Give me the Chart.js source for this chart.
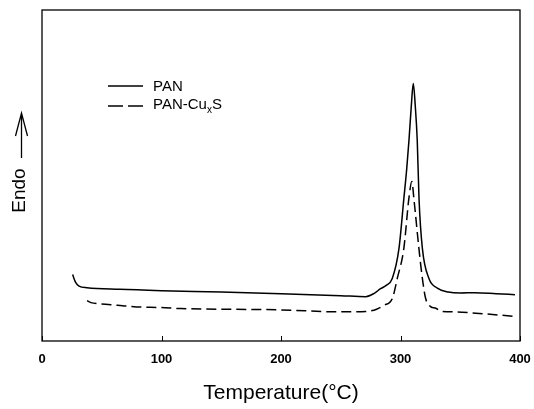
<!DOCTYPE html>
<html>
<head>
<meta charset="utf-8">
<script src="https://cdn.jsdelivr.net/npm/chart.js@4"></script>
<style>
  html, body { margin: 0; padding: 0; background: #fff; }
  #wrap { width: 534px; height: 409px; }
</style>
</head>
<body>
<div id="wrap"><canvas id="dsc" width="534" height="409"></canvas></div>
<script>
// DSC curves (arbitrary endo units, 0..100 = frame)
const panTemp = [25.6, 28, 31, 37.7, 65, 100, 150, 200, 250, 271, 278, 283.3, 288, 293.1, 298.7, 302.8, 305.2, 307.1, 309, 310.7, 312.4, 314, 315.5, 318.3, 323.8, 330.8, 340, 350, 362, 380, 395.8];
const panEndo = [20.1, 17.8, 16.6, 16.1, 15.6, 15.2, 14.8, 14.3, 13.7, 13.4, 14.4, 15.8, 16.8, 18.9, 27.9, 43, 52, 60.7, 70.8, 77.8, 70.8, 60.7, 43, 28, 18.9, 16, 14.8, 14.5, 14.6, 14.3, 14.0];

const cuTemp = [37.7, 41, 48.8, 63, 79, 100, 116, 200, 250, 271, 280, 286.1, 293.1, 297.3, 302.8, 307, 309.5, 311.2, 315.4, 318.3, 321, 325.2, 329.5, 335, 345, 360, 394];
const cuEndo = [12.2, 11.6, 11.2, 10.8, 10.3, 10.1, 9.8, 9.4, 8.8, 8.9, 9.6, 10.8, 12.8, 18.9, 28, 43, 48.2, 43, 28, 18.9, 12.9, 10.4, 9.9, 8.9, 8.8, 8.5, 7.5];

const xTicks = [0, 100, 200, 300, 400];
const xTitle = "Temperature(\u00B0C)";

const FONT = "'Liberation Sans', Arial, Helvetica, sans-serif";

function pts(xs, ys) {
  return xs.map((x, i) => ({ x: x, y: ys[i] }));
}

// frame, inward ticks, legend, axis titles
const decor = {
  id: "decor",
  afterDraw(chart) {
    const ctx = chart.ctx;
    const a = chart.chartArea;
    const xs = chart.scales.x;
    ctx.save();
    ctx.strokeStyle = "#000";
    ctx.lineWidth = 1.3;
    ctx.strokeRect(a.left, a.top, a.right - a.left, a.bottom - a.top);

    // ticks pointing into the plot
    ctx.lineWidth = 1;
    xTicks.forEach(t => {
      const px = Math.round(xs.getPixelForValue(t)) + 0.5;
      ctx.beginPath();
      ctx.moveTo(px, a.bottom);
      ctx.lineTo(px, a.bottom - 5);
      ctx.stroke();
    });

    // legend
    ctx.lineWidth = 1.5;
    ctx.beginPath();
    ctx.moveTo(108, 86);
    ctx.lineTo(143, 86);
    ctx.stroke();
    ctx.setLineDash([15, 5]);
    ctx.beginPath();
    ctx.moveTo(108, 106);
    ctx.lineTo(143, 106);
    ctx.stroke();
    ctx.setLineDash([]);

    ctx.fillStyle = "#000";
    ctx.textBaseline = "middle";
    ctx.textAlign = "left";
    ctx.font = "15px " + FONT;
    ctx.fillText("PAN", 153, 87);
    let x = 153;
    ctx.fillText("PAN-Cu", x, 105);
    x += ctx.measureText("PAN-Cu").width;
    ctx.font = "10px " + FONT;
    ctx.fillText("x", x, 110);
    x += ctx.measureText("x").width;
    ctx.font = "15px " + FONT;
    ctx.fillText("S", x, 105);

    // x title
    ctx.textAlign = "center";
    ctx.font = "21px " + FONT;
    ctx.fillText(xTitle, (a.left + a.right) / 2, 393);

    // y label
    ctx.save();
    ctx.translate(19.5, 190.5);
    ctx.rotate(-Math.PI / 2);
    ctx.font = "19px " + FONT;
    ctx.textAlign = "center";
    ctx.fillText("Endo", 0, 0);
    ctx.restore();

    // arrow
    ctx.lineWidth = 1.3;
    ctx.beginPath();
    ctx.moveTo(21.5, 158);
    ctx.lineTo(21.5, 113);
    ctx.moveTo(15.5, 136);
    ctx.lineTo(21.5, 113);
    ctx.lineTo(27.5, 136);
    ctx.stroke();
    ctx.restore();
  }
};

new Chart(document.getElementById("dsc"), {
  type: "line",
  data: {
    datasets: [
      {
        label: "PAN",
        data: pts(panTemp, panEndo),
        borderColor: "#000",
        borderWidth: 1.5,
        pointRadius: 0,
        fill: false,
        cubicInterpolationMode: "monotone"
      },
      {
        label: "PAN-CuxS",
        data: pts(cuTemp, cuEndo),
        borderColor: "#000",
        borderWidth: 1.5,
        borderDash: [10, 5],
        pointRadius: 0,
        fill: false,
        cubicInterpolationMode: "monotone"
      }
    ]
  },
  options: {
    responsive: false,
    animation: false,
    layout: { padding: { top: 10, right: 14, left: 0, bottom: 0 } },
    plugins: {
      legend: { display: false },
      tooltip: { enabled: false }
    },
    scales: {
      x: {
        type: "linear",
        min: 0,
        max: 400,
        afterBuildTicks: (s) => { s.ticks = xTicks.map(v => ({ value: v })); },
        afterFit: (s) => { s.height = 68; s.paddingRight = 0; s.paddingLeft = 0; },
        grid: { display: false, drawTicks: false },
        border: { display: false },
        ticks: {
          color: "#000",
          padding: 11,
          maxRotation: 0,
          font: { family: FONT, size: 13, weight: "bold" }
        }
      },
      y: {
        min: 0,
        max: 100,
        afterFit: (s) => { s.width = 42; s.paddingTop = 0; s.paddingBottom = 0; },
        grid: { display: false, drawTicks: false },
        border: { display: false },
        ticks: { display: false }
      }
    }
  },
  plugins: [decor]
});
</script>
</body>
</html>
